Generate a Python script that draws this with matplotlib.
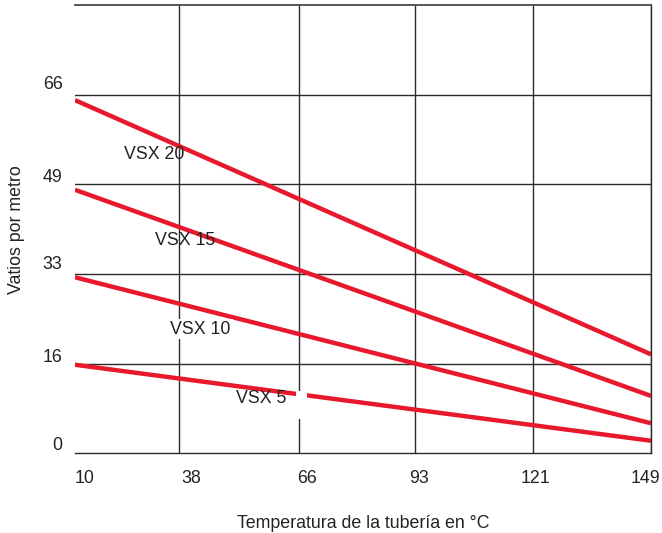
import matplotlib.pyplot as plt
import matplotlib.transforms as mtransforms
from matplotlib.patches import Rectangle

plt.rcParams['font.family'] = ['Liberation Sans', 'DejaVu Sans']

# data (W/m vs pipe temperature in °C)
temp_ends = [10, 149]
series_names = ["VSX 20", "VSX 15", "VSX 10", "VSX 5"]
watts = {
    "VSX 20": [64.6, 18.1],
    "VSX 15": [48.2, 10.5],
    "VSX 10": [32.2, 5.5],
    "VSX 5": [16.2, 2.3],
}
x_ticks = [10, 38, 66, 93, 121, 149]
x_grid = [35, 64, 92, 120.5, 149]
y_ticks = [0, 16, 33, 49, 66]
y_grid = [16.4, 32.8, 49.2, 65.6]
label_pos = {
    "VSX 20": (29.1, 54.6),
    "VSX 15": (36.5, 39.0),
    "VSX 10": (40.3, 22.7),
    "VSX 5": (54.9, 10.1),
}

red = "#e8192c"
grid_c = "#2b2b2b"
txt_c = "#222222"
fs = 12.8

fig = plt.figure(figsize=(6.62, 5.33), dpi=100)
ax = fig.add_axes([0.1133, 0.1495, 0.8701, 0.8411])
ax.set_xlim(10, 149)
ax.set_ylim(0, 82)

for xv in x_grid:
    ax.axvline(xv, color=grid_c, lw=1.0, zorder=1)
for yv in y_grid:
    ax.axhline(yv, color=grid_c, lw=1.0, zorder=1)

for name in series_names:
    ax.plot(temp_ends, watts[name], color=red, lw=3.2, solid_capstyle="butt", zorder=2)

for name in series_names:
    x, y = label_pos[name]
    kw = {}
    if name == "VSX 10":
        kw["bbox"] = dict(facecolor="white", edgecolor="none", boxstyle="square,pad=0.1")
    ax.text(x, y, name, ha="center", va="center", fontsize=fs, color=txt_c, zorder=4, **kw)

# white mask beside the VSX 5 label
ax.add_patch(Rectangle((63.3, 6.3), 2.7, 5.1, facecolor="white", edgecolor="none", zorder=3))

ax.spines["left"].set_visible(False)
for side in ["right", "bottom"]:
    ax.spines[side].set_color(grid_c)
    ax.spines[side].set_linewidth(1.0)
ax.spines["top"].set_color("#555555")
ax.spines["top"].set_linewidth(1.4)

ax.set_xticks(x_ticks)
ax.set_xticklabels([str(v) for v in x_ticks], fontsize=fs, color=txt_c)
ax.set_yticks(y_ticks)
ax.set_yticklabels([str(v) for v in y_ticks], fontsize=fs, color=txt_c)
ax.tick_params(axis="both", length=0)
ax.tick_params(axis="x", pad=12)
ax.tick_params(axis="y", pad=9)

xlabs = ax.get_xticklabels()
xlabs[0].set_ha("left")
xlabs[-1].set_transform(xlabs[-1].get_transform()
                        + mtransforms.ScaledTranslation(-6 / 100, 0, fig.dpi_scale_trans))

# lift y tick labels above their lines
offset = mtransforms.ScaledTranslation(0, 10 / 100, fig.dpi_scale_trans)
for lab in ax.get_yticklabels():
    lab.set_transform(lab.get_transform() + offset)

ax.set_xlabel("Temperatura de la tubería en °C", fontsize=fs, color=txt_c, labelpad=20)
ax.set_ylabel("Vatios por metro", fontsize=fs, color=txt_c, labelpad=13)

fig.savefig("out.png", dpi=100)
